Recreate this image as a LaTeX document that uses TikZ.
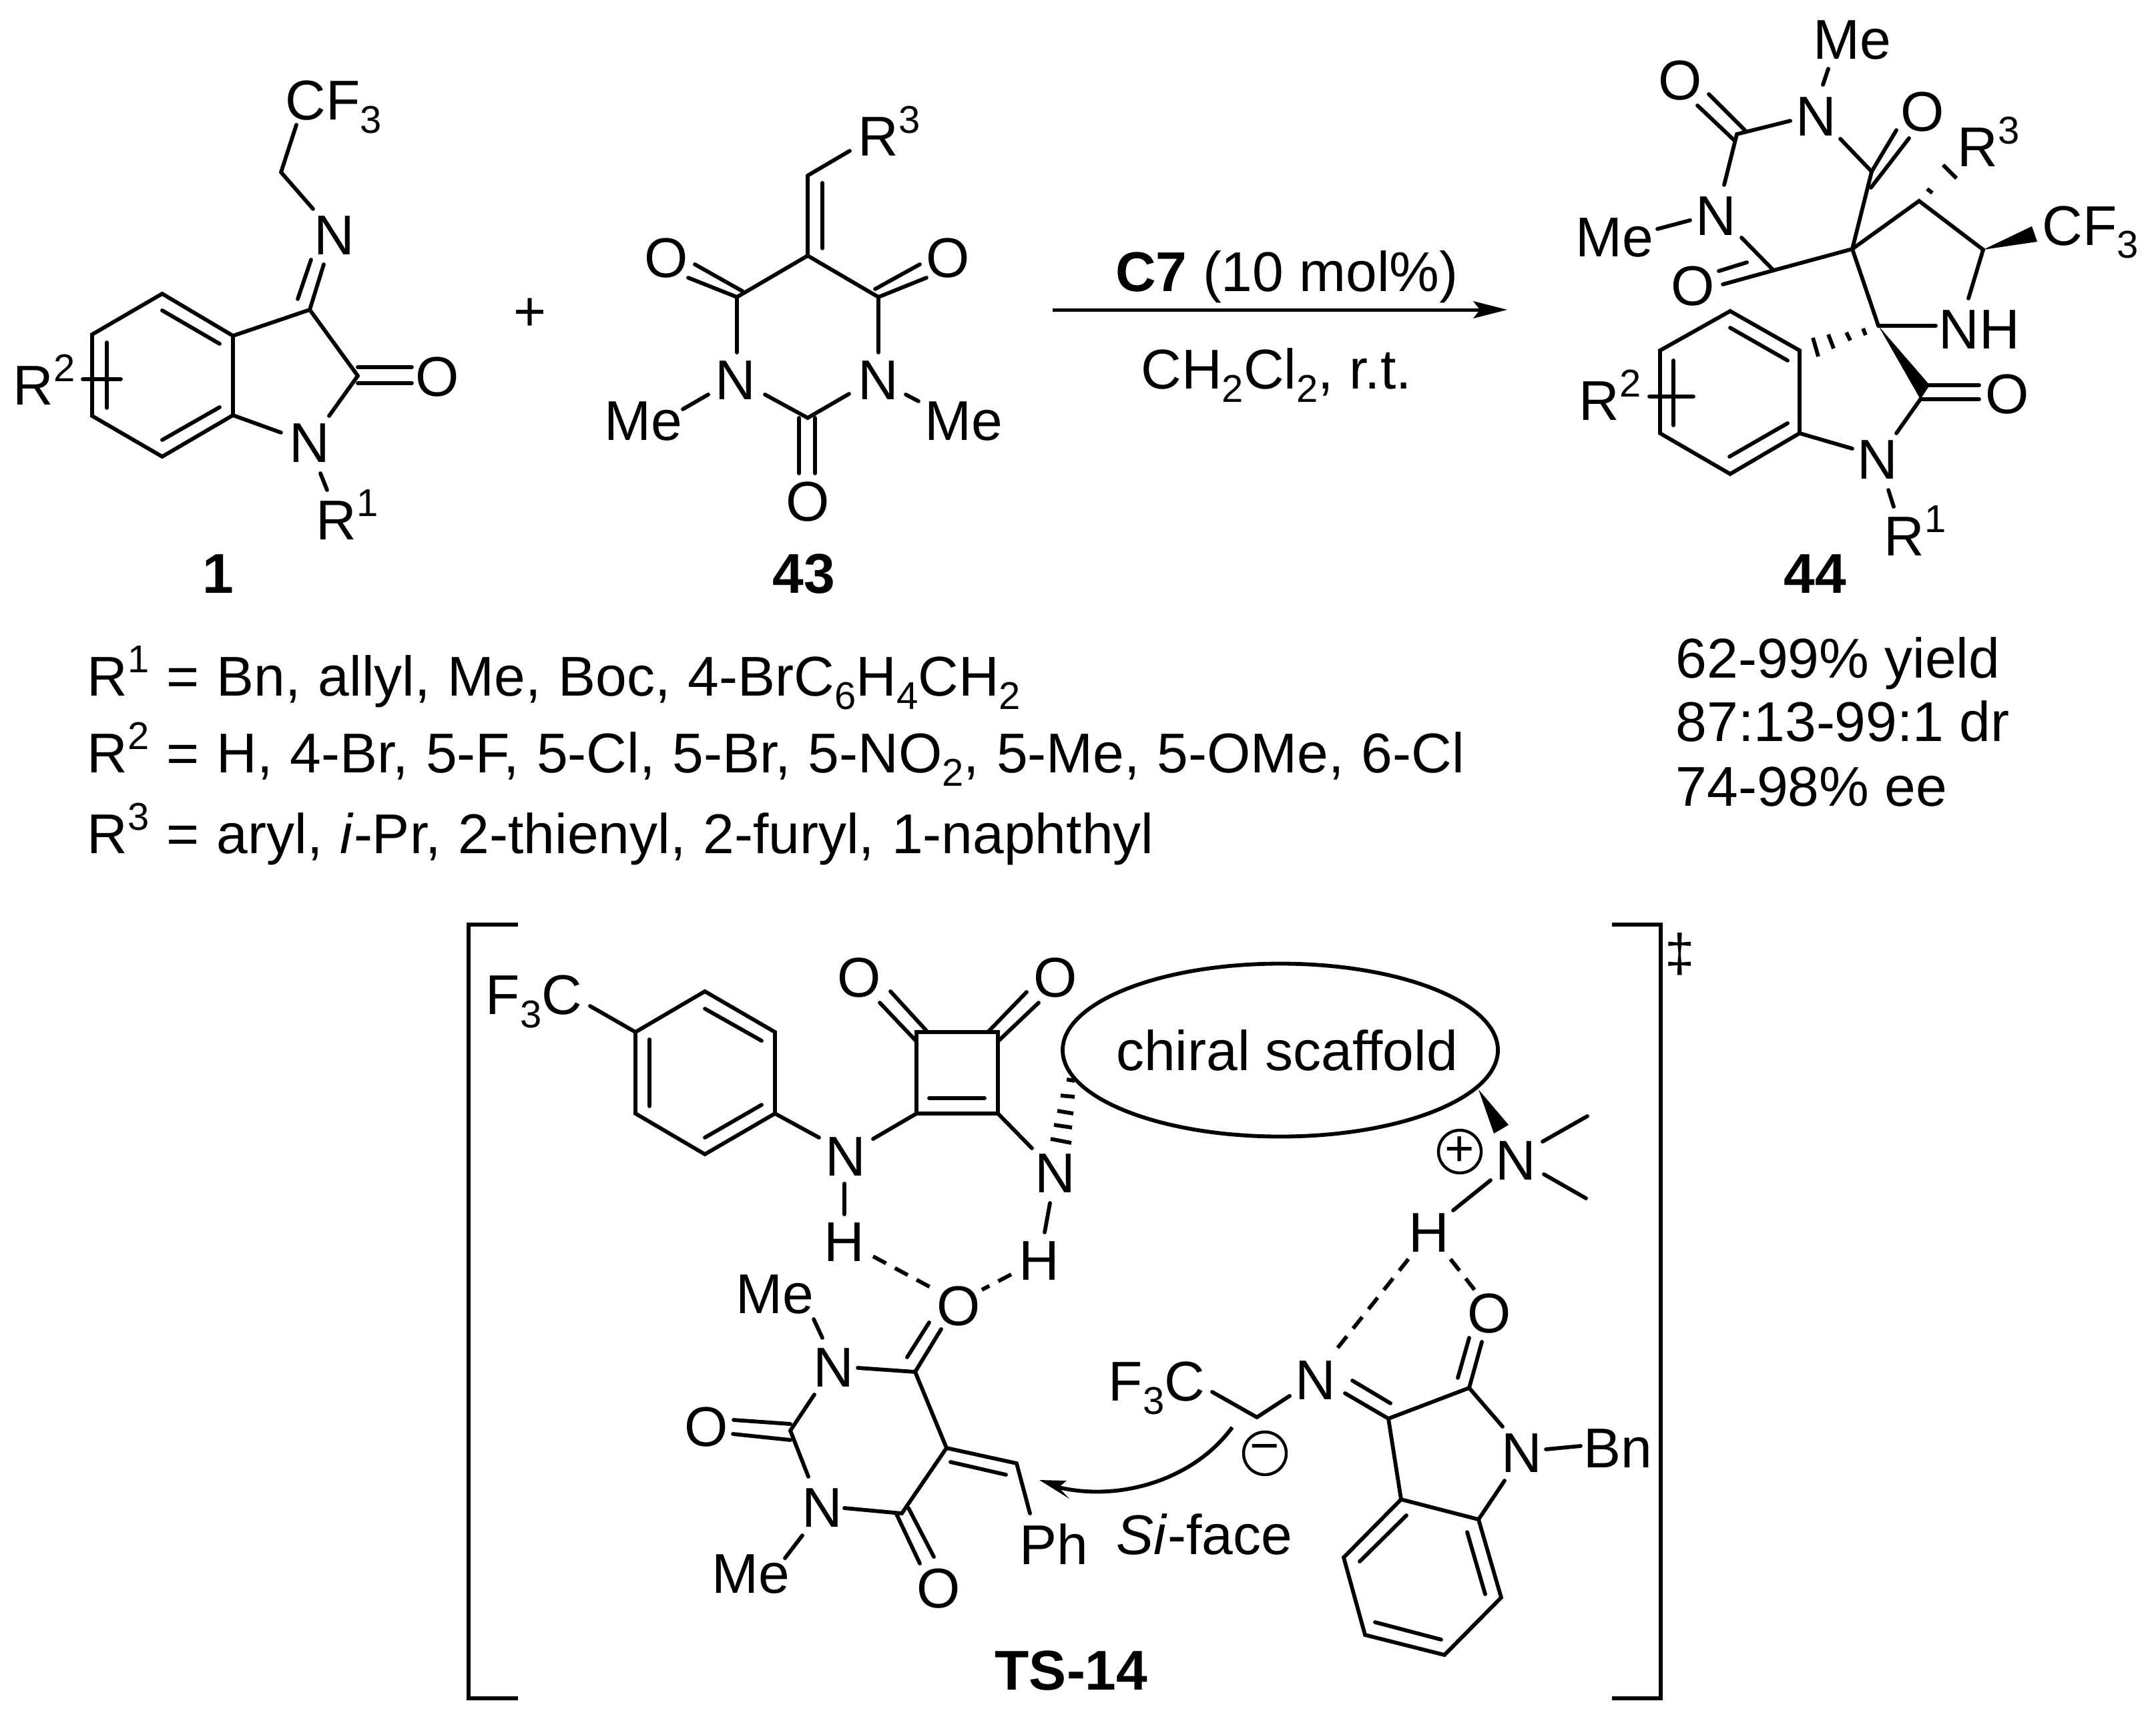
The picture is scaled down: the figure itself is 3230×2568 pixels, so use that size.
\documentclass[tikz,border=0pt]{standalone}
\usepackage{fontspec}
\setmainfont{Liberation Sans}
\usetikzlibrary{shapes.geometric}
\newcount\segc
\newcommand\seg[3][bond]{\global\advance\segc by 1\relax
  \coordinate (p\the\segc) at (#2); \coordinate (q\the\segc) at (#3); \draw[#1] (p\the\segc) -- (q\the\segc);}
\newcommand\Sup[1]{\raisebox{8.75pt}{\fontsize{14.5}{14.5}\selectfont #1}}
\newcommand\Sub[1]{\raisebox{-5pt}{\fontsize{14.5}{14.5}\selectfont #1}}
\newcommand\widesp{\spaceskip 6.5pt\relax}
\tikzset{
  bond/.style={line width=1.45pt,line cap=round,line join=miter},
  hbond/.style={line width=1.45pt,dash pattern=on 5.5pt off 3.75pt},
  hash/.style={line width=1.45pt},
  lbl/.style={inner sep=0pt,font=\fontsize{21}{25}\selectfont},
  atom/.style={lbl,anchor=center},
  rlab/.style={lbl,anchor=base west},
  sublist/.style={lbl,anchor=base west,font=\fontsize{21}{25}\selectfont\widesp},
  cmpd/.style={lbl,anchor=center,font=\fontsize{21}{25}\selectfont\bfseries},
  charge/.style={circle,draw,line width=1.1pt,minimum size=16pt,inner sep=0pt,font=\fontsize{19}{19}\selectfont},
}
\begin{document}
\begin{tikzpicture}[x=0.25pt,y=-0.25pt]
\useasboundingbox (0,0) rectangle (3230,2568);
% ---------- compound 1
\foreach \n/\x/\y in {A1/243/440,A2/349/503,A3/349/622,A4/243/684,A5/138/623,A6/138/501,A7/464/464,A8/536/563,A9/421/258}
  \coordinate (\n) at (\x,\y);
\draw[bond] (A1)--(A2)--(A3)--(A4)--(A5)--(A6)--cycle;
\draw[bond] (A2)--(A7)--(A8);
\seg{243,465}{329,515}\seg{243,659}{329,610}\seg{160,513}{160,611}
\seg{A3}{421,648}\seg{A8}{493,623}
\seg{536,550}{617,550}\seg{536,574}{617,574}
\seg{A7}{485,396}\seg{446,448}{466,389}
\seg{469,313}{A9}\seg{A9}{444,187}
\seg{480,709}{490,734}\seg{124,568}{181,568}
\node[rlab] (a-cf3) at (427,180) {CF\Sub{3}};
\node[atom] (a-n) at (501,353) {N};
\node[atom] (a-o) at (655,565) {O};
\node[atom] (a-n1) at (464,664) {N};
\node[rlab] (a-r1) at (473,808) {R\Sup{1}};
\node[rlab] (a-r2) at (19,606) {R\Sup{2}};
\node[cmpd] (a-lab) at (327,860) {1};
\node[atom] (plus) at (794,471) {+};
% ---------- compound 43
\foreach \n/\x/\y in {B1/1210/383,B2/1210/263,B3/1104/445,B4/1316/445,B5/1210/626}
  \coordinate (\n) at (\x,\y);
\draw[bond] (B3)--(B1)--(B4);
\seg{B1}{B2}\seg{1232,372}{1232,274}\seg{B2}{1273,226}
\seg{1112,436}{1041,396}\seg{B3}{1031,416}
\seg{B4}{1388,416}\seg{1311,433}{1378,396}
\seg{B3}{1104,528}\seg{B4}{1316,528}
\seg{1146,591}{B5}\seg{1272,590}{B5}
\seg{1197,626}{1197,709}\seg{1221,626}{1221,709}
\seg{1061,591}{1023,613}\seg{1357,591}{1376,601}
\node[rlab] (b-r3) at (1285,234) {R\Sup{3}};
\node[atom] (b-o1) at (998,387) {O};
\node[atom] (b-o2) at (1420,387) {O};
\node[atom] (b-n1) at (1102,570) {N};
\node[atom] (b-n2) at (1316,570) {N};
\node[atom] (b-o3) at (1210,752) {O};
\node[atom] (b-me1) at (964,631) {Me};
\node[atom] (b-me2) at (1444,631) {Me};
\node[cmpd] (b-lab) at (1204,860) {43};
% ---------- arrow
\coordinate (ar0) at (1577,464); \coordinate (ar1) at (2217,464);
\coordinate (ar2) at (2258,464); \coordinate (ar3) at (2207,451); \coordinate (ar4) at (2207,477);
\draw[line width=1.25pt] (ar0)--(ar1);
\fill (ar2)--(ar3)--(ar1)--(ar4)--cycle;
\node[lbl,anchor=base] (cond1) at (1928,436) {\textbf{C7} (10 mol\%)};
\node[lbl,anchor=base] (cond2) at (1912,582) {CH\Sub{2}Cl\Sub{2}, r.t.};
% ---------- compound 44
\foreach \n/\x/\y in {C1/2775/373,C2/2602/201,C3/2657/405,C4/2804/257,C5/2875/301,C6/2971/374,C7/2814/488,C8/2880/597,
  C9/2592/466,C10/2696/525,C11/2696/649,C12/2592/710,C13/2487/649,C14/2487/525}
  \coordinate (\n) at (\x,\y);
\draw[bond] (C9)--(C10)--(C11)--(C12)--(C13)--(C14)--cycle;
\seg{2592,491}{2678,540}\seg{2678,634}{2591,684}\seg{2507,540}{2507,637}
\seg{C11}{2775,672}\seg{2471,594}{2537,594}
\seg{2731,127}{2739,103}
\seg{2614,195}{2560,141}\seg{2599,211}{2543,158}
\seg{C2}{2682,181}\seg{C2}{2583,277}
\seg{2483,343}{2532,330}\seg{2609,356}{C3}
\seg{C3}{C1}\seg{2575,406}{2617,393}\seg{2581,426}{C3}
\seg{2757,208}{C4}\seg{C4}{2841,195}\seg{2803,281}{2860,207}\seg{C4}{C1}
\draw[bond] (C1)--(C5)--(C6);
\seg{C6}{2949,447}
\seg[hash]{2887,283}{2895,289}\seg[hash]{2911,247}{2931,267}
\coordinate (w1) at (3044,339); \coordinate (w2) at (3052,362);
\fill (C6)--(w1)--(w2)--cycle;
\seg{C1}{C7}\seg{C7}{2900,488}
\coordinate (w3) at (2891,577); \coordinate (w4) at (2877,598);
\fill (C7)--(w3)--(w4)--cycle;
\seg{2885,577}{2965,577}\seg{2877,598}{2965,598}
\seg{2877,598}{2841,649}\seg{2829,734}{2837,759}
\seg[hash]{2791,492}{2795,502}\seg[hash]{2766,498}{2772,510}\seg[hash]{2739,501}{2747,522}\seg[hash]{2716,506}{2724,534}
\node[atom] (c-me1) at (2775,60) {Me};
\node[atom] (c-n1) at (2721,175) {N};
\node[atom] (c-o1) at (2517,121) {O};
\node[atom] (c-o2) at (2880,168) {O};
\node[rlab] (c-r3) at (2932,250) {R\Sup{3}};
\node[rlab] (c-cf3) at (3059,367) {CF\Sub{3}};
\node[atom] (c-n2) at (2571,324) {N};
\node[atom] (c-me2) at (2419,356) {Me};
\node[atom] (c-o3) at (2536,429) {O};
\node[atom] (c-nh) at (2965,494) {NH};
\node[atom] (c-o4) at (3007,591) {O};
\node[atom] (c-n3) at (2813,689) {N};
\node[rlab] (c-r1) at (2822,832) {R\Sup{1}};
\node[rlab] (c-r2) at (2365,629) {R\Sup{2}};
\node[cmpd] (c-lab) at (2719,860) {44};
% ---------- substituent text
\node[sublist] (t1) at (130,1042) {R\Sup{1} = Bn, allyl, Me, Boc, 4-BrC\Sub{6}H\Sub{4}CH\Sub{2}};
\node[sublist] (t2) at (130,1157) {R\Sup{2} = H, 4-Br, 5-F, 5-Cl, 5-Br, 5-NO\Sub{2}, 5-Me, 5-OMe, 6-Cl};
\node[sublist] (t3) at (130,1278) {R\Sup{3} = aryl, \textit{i}-Pr, 2-thienyl, 2-furyl, 1-naphthyl};
\node[rlab] (y1) at (2510,1015) {62-99\% yield};
\node[rlab] (y2) at (2510,1110) {87:13-99:1 dr};
\node[rlab] (y3) at (2510,1207) {74-98\% ee};
% ---------- brackets
\coordinate (bl1) at (776,1385); \coordinate (bl2) at (702,1385); \coordinate (bl3) at (702,2544); \coordinate (bl4) at (776,2544);
\coordinate (br1) at (2415,1385); \coordinate (br2) at (2488,1385); \coordinate (br3) at (2488,2544); \coordinate (br4) at (2415,2544);
\draw[line width=1.5pt] (bl1)--(bl2)--(bl3)--(bl4);
\draw[line width=1.5pt] (br1)--(br2)--(br3)--(br4);
\node[lbl,font=\fontsize{20}{20}\selectfont] (dd) at (2517,1429) {‡};
% ---------- TS: squaramide
\foreach \n/\x/\y in {D1/952/1546,D2/1056/1485,D3/1161/1546,D4/1161/1668,D5/1056/1729,D6/952/1668,
  D7/1373/1546,D8/1495/1546,D9/1495/1668,D10/1373/1668}
  \coordinate (\n) at (\x,\y);
\draw[bond] (D1)--(D2)--(D3)--(D4)--(D5)--(D6)--cycle;
\draw[bond] (D7)--(D8)--(D9)--(D10)--cycle;
\seg{1056,1511}{1141,1559}\seg{1141,1655}{1056,1704}\seg{973,1557}{973,1657}
\seg{884,1507}{D1}\seg{D4}{1227,1704}\seg{1308,1706}{D10}
\seg{1392,1645}{1475,1645}
\seg{1388,1544}{1334,1485}\seg{1373,1560}{1318,1502}
\seg{1480,1546}{1538,1486}\seg{1495,1560}{1556,1502}
\seg{D9}{1546,1720}\seg{1573,1802}{1565,1846}\seg{1265,1773}{1265,1819}
\seg[hbond]{1308,1882}{1401,1932}\seg[hbond]{1515,1909}{1471,1932}
\seg[hash]{1598,1617}{1610,1619}\seg[hash]{1589,1641}{1610,1643}\seg[hash]{1584,1664}{1608,1668}\seg[hash]{1579,1685}{1606,1689}\seg[hash]{1574,1706}{1605,1712}
\node[rlab] (d-f3c) at (727,1519) {F\Sub{3}C};
\node[atom] (d-o1) at (1287,1465) {O};
\node[atom] (d-o2) at (1581,1465) {O};
\node[atom] (d-n1) at (1267,1733) {N};
\node[atom] (d-n2) at (1581,1758) {N};
\node[atom] (d-h1) at (1265,1861) {H};
\node[atom] (d-h2) at (1557,1889) {H};
\node[draw,ellipse,line width=1.45pt,minimum width=163pt,minimum height=64.75pt,inner sep=0pt] (scaffold) at (1918,1573) {};
\node[atom] (scafftxt) at (1928,1573) {chiral scaffold};
\coordinate (w5) at (2215,1632); \coordinate (w6) at (2238,1698); \coordinate (w7) at (2260,1685);
\fill (w5)--(w6)--(w7)--cycle;
\node[charge] (pl) at (2187,1725) {+};
\node[atom] (d-n3) at (2271,1739) {N};
\seg{2311,1710}{2378,1672}\seg{2313,1759}{2376,1795}
\seg{2233,1768}{2177,1813}
\node[atom] (d-h3) at (2141,1847) {H};
\seg[hbond]{2110,1886}{2000,2024}\seg[hbond]{2173,1886}{2209,1932}
% ---------- TS: lower barbiturate
\foreach \n/\x/\y in {E1/1371/2055,E2/1184/2143,E3/1351/2267,E4/1418/2169,E5/1523/2192}
  \coordinate (\n) at (\x,\y);
\seg{E1}{1410,1991}\seg{1359,2033}{1392,1981}
\seg{1285,2049}{E1}\seg{1219,1976}{1232,2004}
\seg{1220,2089}{E2}\seg{1184,2133}{1099,2127}\seg{1184,2157}{1098,2148}
\seg{E2}{1211,2212}\seg{1265,2259}{E3}\seg{1202,2300}{1176,2334}
\seg{1343,2268}{1378,2342}\seg{1361,2259}{1399,2332}
\draw[bond] (E1)--(E4)--(E3);
\seg{E4}{E5}\seg{1424,2190}{1507,2209}\seg{E5}{1543,2267}
\node[atom] (e-o1) at (1436,1957) {O};
\node[atom] (e-n1) at (1249,2049) {N};
\node[atom] (e-me1) at (1161,1939) {Me};
\node[atom] (e-o2) at (1058,2138) {O};
\node[atom] (e-n2) at (1232,2259) {N};
\node[atom] (e-me2) at (1125,2358) {Me};
\node[atom] (e-o3) at (1406,2380) {O};
\node[atom] (e-ph) at (1579,2313) {Ph};
\node[cmpd] (ts) at (1605,2503) {TS-14};
% ---------- TS: isatin imine
\foreach \n/\x/\y in {F1/2201/2079,F2/2080/2125,F3/2099/2246,F4/2215/2276,F5/2249/2393,F6/2164/2479,F7/2045/2449,F8/2013/2333,F9/1883/2123}
  \coordinate (\n) at (\x,\y);
\draw[bond] (F3)--(F4)--(F5)--(F6)--(F7)--(F8)--cycle;
\draw[bond] (F1)--(F2)--(F3);
\seg{2107,2270}{2037,2339}\seg{2198,2295}{2225,2388}\seg{2159,2456}{2060,2430}
\seg{F4}{2254,2218}\seg{F1}{2251,2137}\seg{2316,2171}{2368,2166}
\seg{2220,2010}{F1}\seg{2201,2004}{2184,2064}
\seg{F2}{2015,2087}\seg{2083,2102}{2026,2068}
\seg{1932,2091}{F9}\seg{F9}{1816,2085}
\node[atom] (f-o) at (2231,1968) {O};
\node[atom] (f-n1) at (1971,2068) {N};
\node[rlab] (f-f3c) at (1660,2098) {F\Sub{3}C};
\node[atom] (f-n2) at (2280,2177) {N};
\node[rlab] (f-bn) at (2372,2198) {Bn};
\node[charge] (mi) at (1895,2177) {−};
\node[rlab] (si) at (1672,2328) {\textit{Si}-face};
% ---------- curved arrow
\coordinate (cs) at (1846,2138); \coordinate (ce) at (1586,2228);
\coordinate (c1) at (1790,2215); \coordinate (c2) at (1680,2250);
\draw[line width=1.45pt] (cs) .. controls (c1) and (c2) .. (ce);
\coordinate (h1) at (1557,2217); \coordinate (h2) at (1598,2218); \coordinate (h3) at (1602,2245);
\fill (h1)--(h2)--(ce)--(h3)--cycle;
\end{tikzpicture}
\end{document}
